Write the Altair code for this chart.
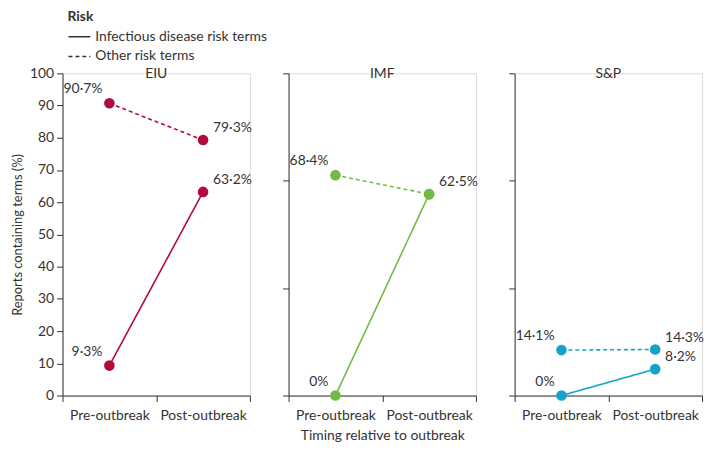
import altair as alt
import pandas as pd

sources = ["EIU", "IMF", "S&P"]
colors = ["#b30a3c", "#74bb44", "#17a2c8"]
timings = ["Pre-outbreak", "Post-outbreak"]
risk_types = ["Infectious disease risk terms", "Other risk terms"]

# values[source] = [pre, post]
infectious = {"EIU": [9.3, 63.2], "IMF": [0.0, 62.5], "S&P": [0.0, 8.2]}
other = {"EIU": [90.7, 79.3], "IMF": [68.4, 62.5], "S&P": [14.1, 14.3]}
# points whose value label is not printed (shared point)
hide_label = [("IMF", "Infectious disease risk terms", "Post-outbreak")]

FONT = "Lato"
TXT = "#333333"
FS = 14
W, H = 189, 325


def fmt(v):
    if v == 0:
        return "0%"
    return f"{v:.1f}".replace(".", "·") + "%"


rows = []
for s in sources:
    for r, d in zip(risk_types, [infectious, other]):
        for i, t in enumerate(timings):
            v = d[s][i]
            lab = "" if (s, r, t) in hide_label else fmt(v)
            rows.append({"source": s, "risk": r, "timing": t, "value": v, "label": lab})
df = pd.DataFrame(rows)


def panel(idx):
    s = sources[idx]
    c = colors[idx]
    base = alt.Chart(df).transform_filter(alt.datum.source == s)
    first = idx == 0
    yaxis = alt.Axis(
        values=list(range(0, 101, 10)) if first else [0, 100 / 3, 200 / 3, 100],
        labels=first,
        title="Reports containing terms (%)" if first else None,
        grid=False, tickSize=6, domainColor=TXT, tickColor=TXT,
        labelColor=TXT, labelFontSize=FS, labelFont=FONT, labelPadding=3,
        titleFont=FONT, titleFontSize=FS - 1, titleFontWeight="normal", titleColor=TXT,
        titlePadding=5,
    )
    xaxis = alt.Axis(
        tickBand="extent", labelAngle=0,
        title="Timing relative to outbreak" if idx == 1 else None,
        grid=False, tickSize=6, domainColor=TXT, tickColor=TXT,
        labelColor=TXT, labelFontSize=FS, labelFont=FONT, labelPadding=7,
        titleFont=FONT, titleFontSize=FS, titleFontWeight="normal", titleColor=TXT,
        titlePadding=6,
    )
    x = alt.X("timing:N", sort=timings,
              scale=alt.Scale(type="band", domain=timings, paddingInner=0, paddingOuter=0),
              axis=xaxis)
    y = alt.Y("value:Q", scale=alt.Scale(domain=[0, 100], nice=False), axis=yaxis)

    lines = base.mark_line(color=c, strokeWidth=1.6).encode(
        x=x, y=y,
        detail="risk:N",
        strokeDash=alt.StrokeDash(
            "risk:N",
            scale=alt.Scale(domain=risk_types, range=[[1, 0], [4, 3]]),
            legend=alt.Legend(
                title="Risk", orient="none", legendX=5, legendY=-64,
                titleFont=FONT, titleFontSize=FS, titleFontWeight="bold", titleColor=TXT,
                labelFont=FONT, labelFontSize=FS, labelColor=TXT, labelLimit=0,
                symbolType="M-1,0H1", symbolStrokeColor=TXT, symbolStrokeWidth=1.5,
                symbolSize=484, rowPadding=1, titlePadding=1, labelOffset=4,
            ) if first else None,
        ),
    )
    pts = base.mark_circle(color=c, size=115, opacity=1).encode(x=x, y=y)
    pre_txt = base.transform_filter(alt.datum.timing == "Pre-outbreak").mark_text(
        align="right", baseline="middle", dx=-7, dy=-14,
        font=FONT, fontSize=FS, color=TXT,
    ).encode(x=x, y=y, text="label:N")
    post_txt = base.transform_filter(alt.datum.timing == "Post-outbreak").mark_text(
        align="left", baseline="middle", dx=10, dy=-12,
        font=FONT, fontSize=FS, color=TXT,
    ).encode(x=x, y=y, text="label:N")
    header = alt.Chart(pd.DataFrame({"source": [s]})).mark_text(
        baseline="middle", align="center", font=FONT, fontSize=FS, color=TXT,
    ).encode(text="source:N", x=alt.value(W / 2), y=alt.value(1))

    return alt.layer(lines, pts, pre_txt, post_txt, header).properties(width=W, height=H)


chart = alt.hconcat(panel(0), panel(1), panel(2), spacing=29).properties(
    padding={"left": 3, "top": 0, "right": 0, "bottom": 0}
).configure_view(stroke=None).configure(background="white")

chart.save("out.html", embed_options={"renderer": "svg", "actions": False})
